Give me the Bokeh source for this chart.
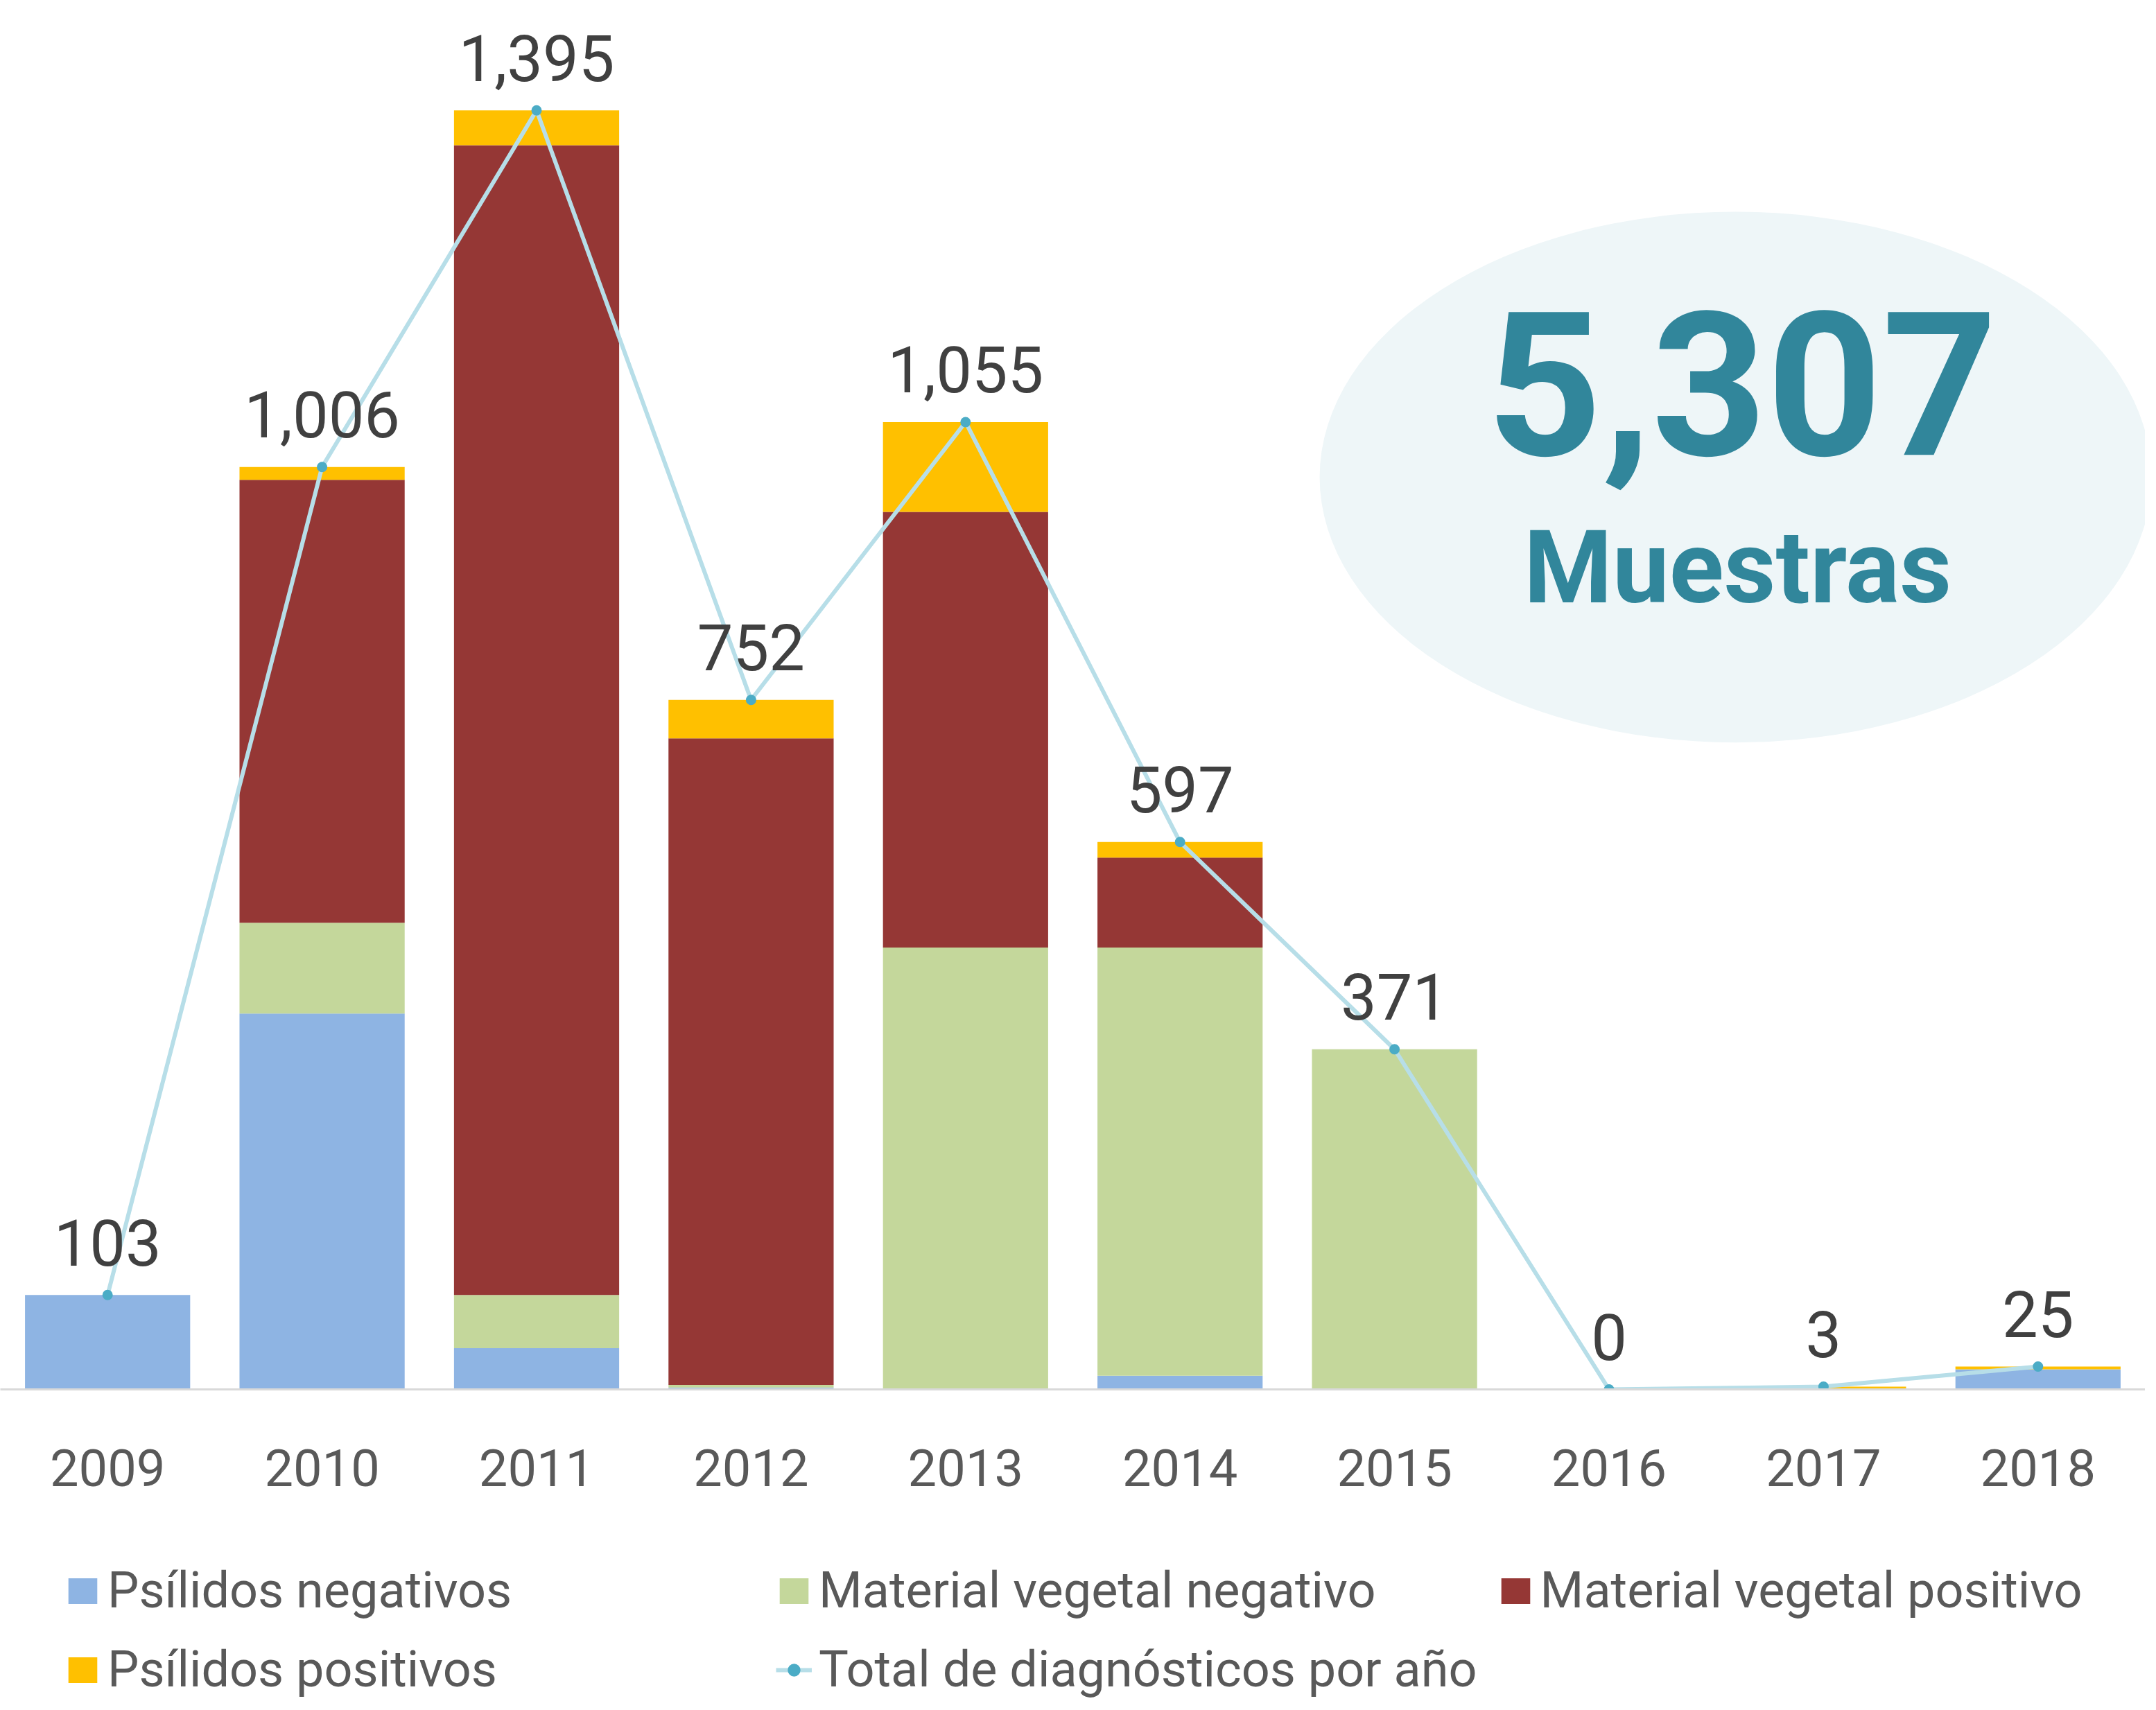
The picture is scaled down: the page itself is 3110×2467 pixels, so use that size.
from bokeh.plotting import figure
from bokeh.layouts import column
from bokeh.models import Range1d, FixedTicker, Legend, LegendItem, ColumnDataSource
from bokeh.core.properties import value
from bokeh.embed import file_html
from bokeh.resources import INLINE

years = ["2009", "2010", "2011", "2012", "2013", "2014", "2015", "2016", "2017", "2018"]
psilidos_neg = [103, 410, 45, 2, 0, 15, 0, 0, 0, 22]
mat_veg_neg = [0, 99, 58, 3, 482, 467, 371, 0, 0, 0]
mat_veg_pos = [0, 483, 1254, 705, 475, 98, 0, 0, 0, 0]
psilidos_pos = [0, 14, 38, 42, 98, 17, 0, 0, 3, 3]
totals = [103, 1006, 1395, 752, 1055, 597, 371, 0, 3, 25]
series_names = ["Psílidos negativos", "Material vegetal negativo",
                "Material vegetal positivo", "Psílidos positivos"]
line_name = "Total de diagnósticos por año"
total_label = "Muestras"

FONT = "Roboto"
colors = ["#8EB4E3", "#C4D79B", "#953735", "#FFC000"]
LINE_COLOR = "#B7DEE8"
DOT_COLOR = "#4BACC6"
xs = [i + 0.5 for i in range(len(years))]

src = ColumnDataSource(dict(
    x=xs, pn=psilidos_neg, mvn=mat_veg_neg, mvp=mat_veg_pos, pp=psilidos_pos,
    total=totals, label=[f"{t:,}" for t in totals],
))

p = figure(width=3094, height=2224, output_backend="svg", toolbar_location=None,
           x_range=Range1d(0, len(years)), y_range=Range1d(0, 1515),
           min_border_left=0, min_border_right=0, min_border_top=0, min_border_bottom=220)
p.outline_line_color = None
p.grid.visible = False
p.yaxis.visible = False

# decorative ellipse with total
p.ellipse(x=[8.09], y=[995], width=1200, height=766, width_units="screen", height_units="screen",
          fill_color="#EEF6F8", line_color=None)
p.text(x=[8.12], y=[1098], text=[f"{sum(totals):,}"], text_align="center", text_baseline="alphabetic",
       text_font=value(FONT), text_font_style="bold", text_font_size="290px", text_color="#31869B")
p.text(x=[8.10], y=[896], text=[total_label], text_align="center", text_baseline="alphabetic",
       text_font=value(FONT), text_font_style="bold", text_font_size="146px", text_color="#31869B")

rs = p.vbar_stack(["pn", "mvn", "mvp", "pp"], x="x", width=0.77, source=src,
                  color=colors, line_color=None)

p.line("x", "total", source=src, line_color=LINE_COLOR, line_width=6)
p.scatter("x", "total", source=src, size=15, fill_color=DOT_COLOR, line_color=None)

p.text("x", "total", text="label", source=src, text_align="center", text_baseline="alphabetic",
       y_offset=-76, text_font=value(FONT), text_font_size="92px", text_color="#404040")

ax = p.xaxis[0]
ax.ticker = FixedTicker(ticks=xs)
ax.major_label_overrides = {x: y for x, y in zip(xs, years)}
ax.axis_line_color = "#D9D9D9"
ax.axis_line_width = 3
ax.major_tick_line_color = None
ax.minor_tick_line_color = None
ax.major_label_text_color = "#595959"
ax.major_label_text_font = FONT
ax.major_label_text_font_size = "74px"
ax.major_label_standoff = 80

# legend panel (swatch renderers hold one point each, outside the visible range)
lg = figure(width=3094, height=227, output_backend="svg", toolbar_location=None,
            x_range=Range1d(0, 1), y_range=Range1d(0, 1), min_border=0)
lg.outline_line_color = None
lg.grid.visible = False
lg.axis.visible = False
leg_rs = [lg.vbar(x=[-5], top=[-5], width=0.5, fill_color=c, line_color=None) for c in colors]
lr = lg.line(x=[-5, -4], y=[-5, -5], line_color=LINE_COLOR, line_width=6)
ld = lg.scatter(x=[-5], y=[-5], size=15, fill_color=DOT_COLOR, line_color=None)

items = [LegendItem(label=n, renderers=[r]) for n, r in zip(series_names, leg_rs)]
items.append(LegendItem(label=line_name, renderers=[lr, ld]))
legend = Legend(items=items, orientation="horizontal", ncols=3, location=(93, 0),
                glyph_width=52, glyph_height=46, label_standoff=10, label_width=935, label_height=46,
                label_text_font=FONT, label_text_font_size="72px", label_text_color="#595959",
                spacing=29, padding=0, margin=0, border_line_color=None, background_fill_alpha=0)
lg.add_layout(legend, "center")

layout = column(p, lg, spacing=0)
open("out.html", "w").write(file_html(layout, INLINE))
